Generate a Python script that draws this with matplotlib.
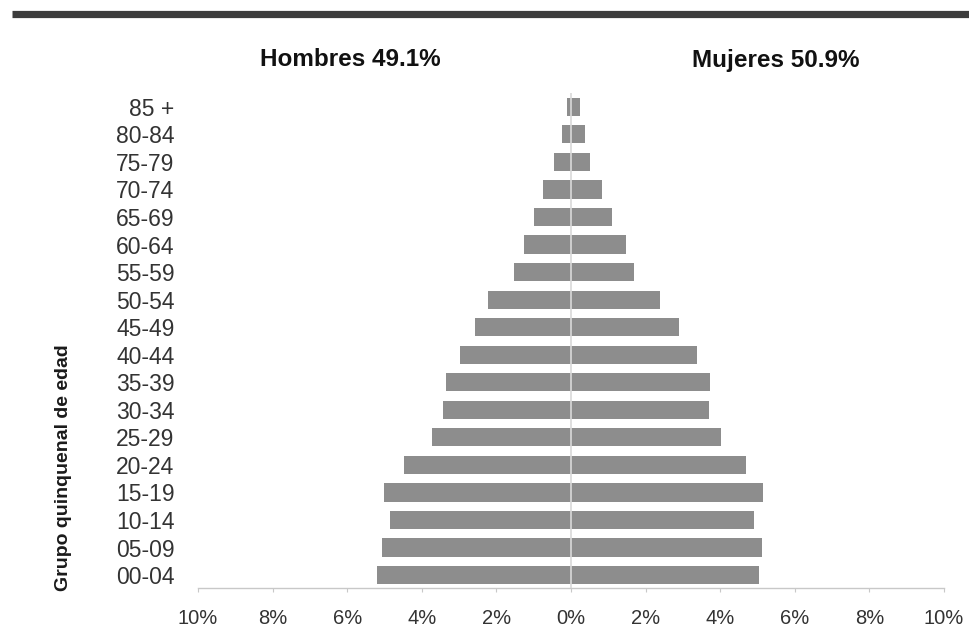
import numpy as np
import matplotlib
matplotlib.use('Agg')
import matplotlib.pyplot as plt
from matplotlib.lines import Line2D
from matplotlib.ticker import FuncFormatter

# Age groups and population shares (%)
ages = ['00-04', '05-09', '10-14', '15-19', '20-24', '25-29', '30-34', '35-39', '40-44',
        '45-49', '50-54', '55-59', '60-64', '65-69', '70-74', '75-79', '80-84', '85 +']
hombres = [5.19, 5.07, 4.85, 5.01, 4.49, 3.72, 3.42, 3.34, 2.98,
           2.58, 2.22, 1.53, 1.26, 0.99, 0.74, 0.45, 0.25, 0.12]
mujeres = [5.03, 5.11, 4.90, 5.16, 4.70, 4.01, 3.71, 3.72, 3.39,
           2.90, 2.39, 1.68, 1.47, 1.10, 0.83, 0.52, 0.37, 0.25]
xticks = [-10, -8, -6, -4, -2, 0, 2, 4, 6, 8, 10]

plt.rcParams['font.family'] = ['Liberation Sans', 'DejaVu Sans']

W, H = 969, 637
fig = plt.figure(figsize=(W / 100, H / 100), dpi=100)
fig.patch.set_facecolor('white')

# Axes placed by pixel coordinates of the reference
left, right, top, bottom = 198, 944, 93, 588
ax = fig.add_axes([left / W, 1 - bottom / H, (right - left) / W, (bottom - top) / H])

y = np.arange(len(ages))
bar_color = '#8d8d8d'
ax.barh(y, -np.array(hombres), height=0.66, color=bar_color, edgecolor='none')
ax.barh(y, mujeres, height=0.66, color=bar_color, edgecolor='none')
ax.axvline(0, color='#d9d9d9', lw=1.2, zorder=3)

ax.set_xlim(-10, 10)
ax.set_ylim(-0.47, len(ages) - 0.5)
ax.set_yticks(y)
ax.set_yticklabels(ages)
ax.set_xticks(xticks)
ax.xaxis.set_major_formatter(FuncFormatter(lambda v, p: f'{abs(v):.0f}%'))

for s in ['top', 'right', 'left']:
    ax.spines[s].set_visible(False)
ax.spines['bottom'].set_color('#c8c8c8')
ax.spines['bottom'].set_linewidth(1.0)

ax.tick_params(axis='y', length=0, pad=17, labelsize=16.5, labelcolor='#333333')
ax.tick_params(axis='x', length=3, width=0.8, color='#c8c8c8', pad=12,
               labelsize=14.5, labelcolor='#333333')

# Y label
fig.text(63 / W, 1 - 468 / H, 'Grupo quinquenal de edad', rotation=90,
         ha='center', va='center', fontsize=14, fontweight='bold', color='#1a1a1a')

# Titles for each side
fig.text(350 / W, 1 - 60 / H, 'Hombres 49.1%', ha='center', va='center',
         fontsize=17.5, fontweight='bold', color='#111111')
fig.text(776 / W, 1 - 60 / H, 'Mujeres 50.9%', ha='center', va='center',
         fontsize=17.5, fontweight='bold', color='#111111')

# Thick rule at the top
fig.add_artist(Line2D([12 / W, 1.0], [1 - 14 / H, 1 - 14 / H], transform=fig.transFigure,
                      color='#3c3c3c', lw=5.2, solid_capstyle='butt'))

fig.savefig('out.png', dpi=100)
